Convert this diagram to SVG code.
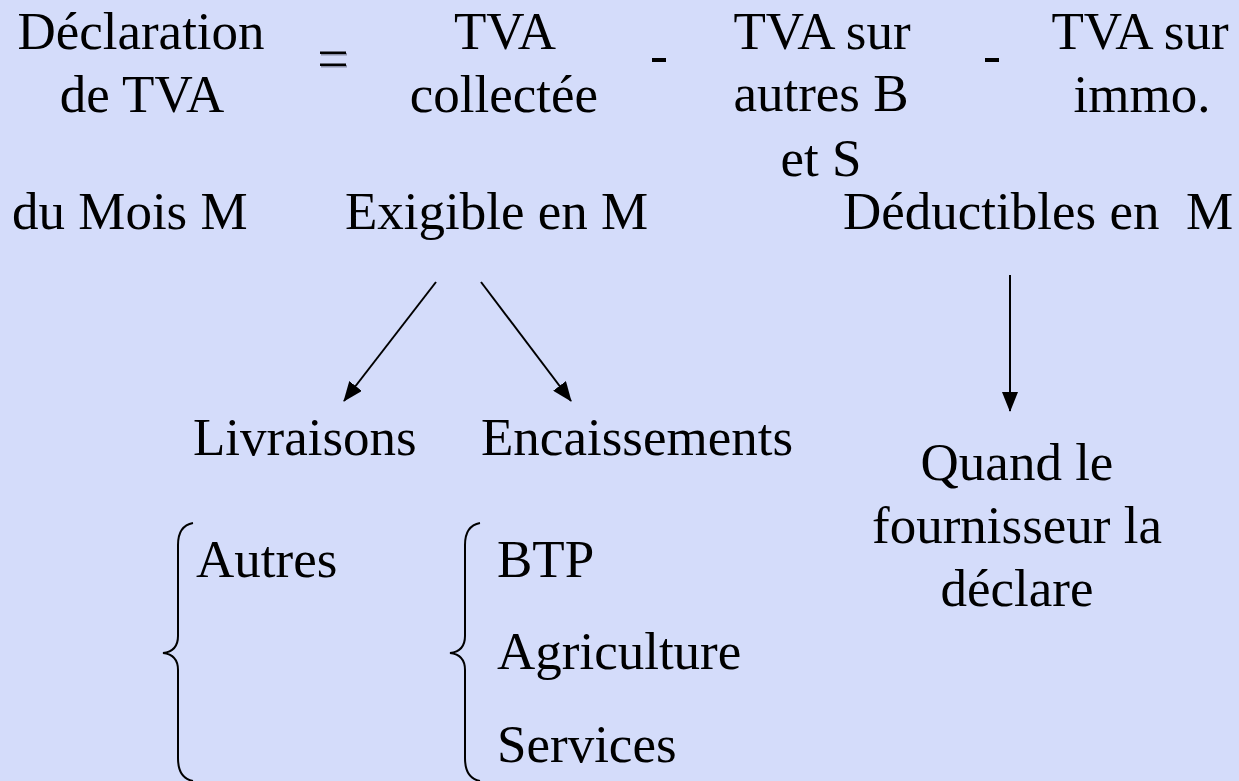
<svg xmlns="http://www.w3.org/2000/svg" width="1239" height="781" viewBox="0 0 1239 781">
  <style>
    text { font-family: "Liberation Serif", "Times New Roman", serif; font-size: 53px; fill: #000; }
    .c { text-anchor: middle; }
    .edge { stroke: #000; stroke-width: 2; fill: none; }
    .brace { stroke: #000; stroke-width: 2; fill: none; }
  </style>
  <defs>
    <marker id="head" viewBox="0 0 20 16" refX="19" refY="8" markerWidth="20" markerHeight="16" markerUnits="userSpaceOnUse" orient="auto">
      <path d="M0,0 L20,8 L0,16 Z" fill="#000"/>
    </marker>
  </defs>

  <rect width="1239" height="781" fill="#D4DCFA"/>

  <!-- equation: declaration = collected VAT - deductible VAT - VAT on fixed assets -->
  <g id="declaration">
    <text class="c" x="141" y="49">Déclaration</text>
    <text class="c" x="142" y="112">de TVA</text>
  </g>
  <g id="equals">
    <rect x="321" y="53" width="26" height="2.5" fill="#8a8fa8"/>
    <rect x="320" y="51.5" width="26" height="2.5" fill="#000"/>
    <rect x="321" y="65" width="26" height="2.5" fill="#8a8fa8"/>
    <rect x="320" y="63.5" width="26" height="2.5" fill="#000"/>
  </g>
  <g id="tva-collectee">
    <text class="c" x="505" y="49">TVA</text>
    <text class="c" x="504" y="112">collectée</text>
  </g>
  <g id="minus-1">
    <rect x="652" y="58" width="14" height="4" fill="#000"/>
  </g>
  <g id="tva-autres">
    <text class="c" x="822" y="49">TVA sur</text>
    <text class="c" x="821" y="111">autres B</text>
    <text class="c" x="821" y="176">et S</text>
  </g>
  <g id="minus-2">
    <rect x="985" y="58" width="14" height="4" fill="#000"/>
  </g>
  <g id="tva-immo">
    <text class="c" x="1140" y="49">TVA sur</text>
    <text class="c" x="1142" y="112">immo.</text>
  </g>

  <!-- second row -->
  <g id="mois">
    <text x="12" y="229">du Mois M</text>
  </g>
  <g id="exigible">
    <text x="345" y="229">Exigible en M</text>
  </g>
  <g id="deductibles">
    <text x="843" y="229" xml:space="preserve">Déductibles en  M</text>
  </g>

  <!-- connectors -->
  <g id="connectors">
    <line class="edge" x1="436" y1="282" x2="344" y2="401" marker-end="url(#head)"/>
    <line class="edge" x1="481" y1="282" x2="571" y2="401" marker-end="url(#head)"/>
    <line class="edge" x1="1010" y1="275" x2="1010" y2="411" marker-end="url(#head)"/>
  </g>

  <g id="livraisons">
    <text x="193" y="455">Livraisons</text>
  </g>
  <g id="encaissements">
    <text x="481" y="455">Encaissements</text>
  </g>
  <g id="quand">
    <text class="c" x="1017" y="480">Quand le</text>
    <text class="c" x="1017" y="543">fournisseur la</text>
    <text class="c" x="1017" y="606">déclare</text>
  </g>

  <!-- cases under "Livraisons" -->
  <g id="autres">
    <path class="brace" d="M193,523 C182,525 178,533 178,545 L178,636 C178,647 172,652 163,653 C172,654 178,659 178,670 L178,758 C178,771 182,779 193,781"/>
    <text x="196" y="577">Autres</text>
  </g>

  <!-- cases under "Encaissements" -->
  <g id="secteurs">
    <path class="brace" d="M480,523 C469,525 465,533 465,545 L465,636 C465,647 459,652 450,653 C459,654 465,659 465,670 L465,758 C465,771 469,779 480,781"/>
    <text x="497" y="577">BTP</text>
    <text x="497" y="669">Agriculture</text>
    <text x="497" y="762">Services</text>
  </g>
</svg>
